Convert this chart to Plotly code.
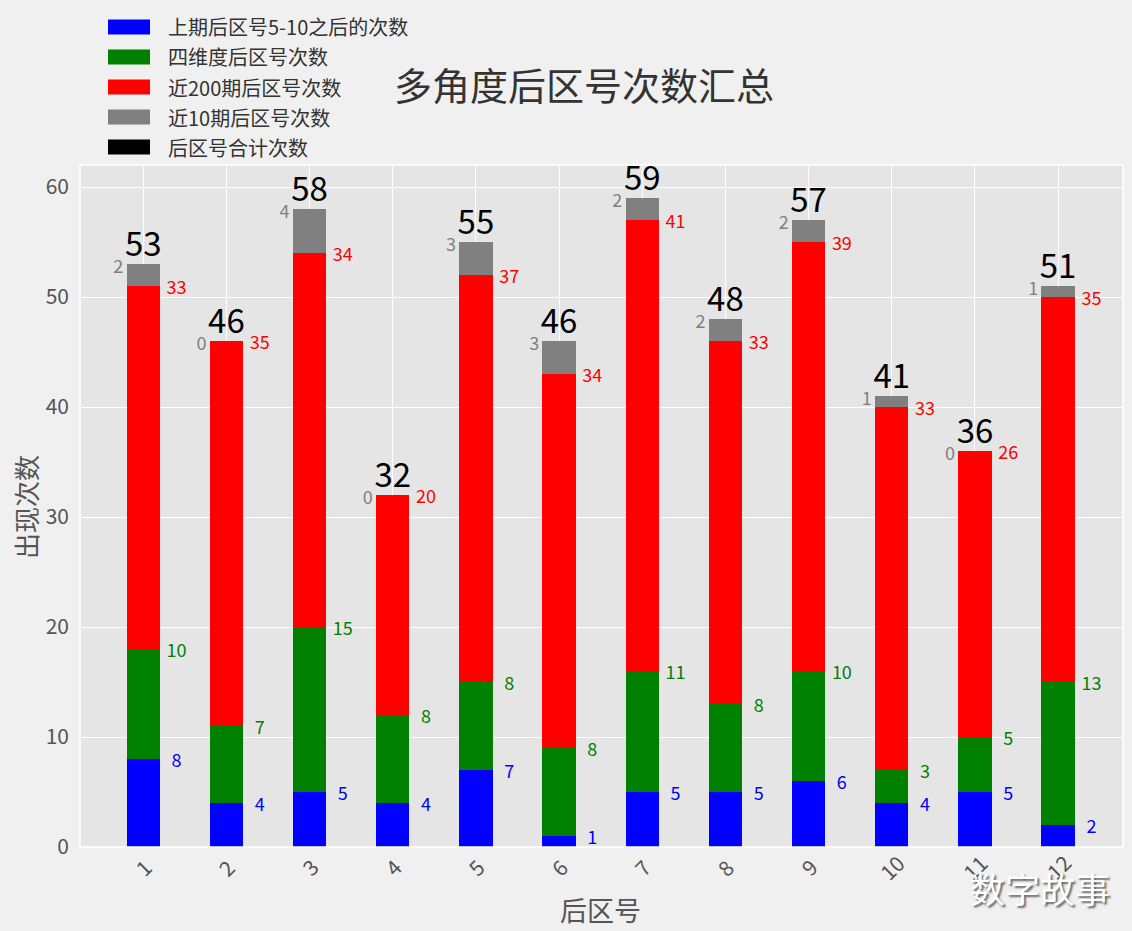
import plotly.graph_objects as go

categories = list(range(1, 13))
tick_labels = [str(c) for c in categories]
blue_vals = [8, 4, 5, 4, 7, 1, 5, 5, 6, 4, 5, 2]
green_vals = [10, 7, 15, 8, 8, 8, 11, 8, 10, 3, 5, 13]
red_vals = [33, 35, 34, 20, 37, 34, 41, 33, 39, 33, 26, 35]
gray_vals = [2, 0, 4, 0, 3, 3, 2, 2, 2, 1, 0, 1]
series_names = ["上期后区号5-10之后的次数", "四维度后区号次数", "近200期后区号次数", "近10期后区号次数", "后区号合计次数"]
series_colors = ["#0000ff", "#008000", "#ff0000", "#808080", "#000000"]

totals = [b + g + r + k for b, g, r, k in zip(blue_vals, green_vals, red_vals, gray_vals)]
cum_blue = blue_vals
cum_green = [b + g for b, g in zip(blue_vals, green_vals)]
cum_red = [b + g + r for b, g, r in zip(blue_vals, green_vals, red_vals)]

FONT = "Noto Sans CJK SC"
fig = go.Figure()

for vals, name, col in zip([blue_vals, green_vals, red_vals, gray_vals], series_names[:4], series_colors[:4]):
    fig.add_trace(go.Bar(x=categories, y=vals, name=name, width=0.4,
                         marker=dict(color=col, line=dict(width=0)), showlegend=False))

lab_font = dict(family=FONT, size=18)
# component labels to the right of bars
for cum, vals, col in [(cum_blue, blue_vals, "#0000ff"), (cum_green, green_vals, "#008000"), (cum_red, red_vals, "#ff0000")]:
    fig.add_trace(go.Scatter(x=[c + 0.4 for c in categories], y=[v - 0.3 for v in cum], mode="text",
                             text=[str(v) for v in vals], textposition="middle center",
                             textfont=dict(color=col, **lab_font), showlegend=False, hoverinfo="skip"))
# gray labels to the left
fig.add_trace(go.Scatter(x=[c - 0.3 for c in categories], y=[t - 0.4 for t in totals], mode="text",
                         text=[str(v) for v in gray_vals], textposition="middle center",
                         textfont=dict(color="#808080", **lab_font), showlegend=False, hoverinfo="skip"))
# totals
fig.add_trace(go.Scatter(x=categories, y=totals, mode="text", text=[str(t) for t in totals],
                         textposition="top center", textfont=dict(color="#000000", family=FONT, size=33),
                         showlegend=False, hoverinfo="skip"))

# manual legend (paper coords derived from pixel layout)
L, R, T, B = 80, 1123, 165, 847
W, H = R - L, B - T
def px(x):
    return (x - L) / W
def py(y):
    return (B - y) / H

for i, (name, col) in enumerate(zip(series_names, series_colors)):
    yc = 27 + 30 * i
    fig.add_shape(type="rect", xref="paper", yref="paper", x0=px(108), x1=px(150), y0=py(yc + 7.5), y1=py(yc - 7.5),
                  fillcolor=col, line=dict(width=0))
    fig.add_annotation(xref="paper", yref="paper", x=px(166), y=py(yc), text=name, showarrow=False,
                       xanchor="left", yanchor="middle", font=dict(family=FONT, size=20, color="#333333"))

# x tick labels rotated
for c, t in zip(categories, tick_labels):
    fig.add_annotation(x=c, xref="x", yref="paper", y=py(867), text=t, showarrow=False, textangle=-45,
                       xanchor="center", yanchor="middle", font=dict(family=FONT, size=21, color="#555555"))

# axis titles
fig.add_annotation(xref="paper", yref="paper", x=px(600), y=py(909), text="后区号", showarrow=False,
                   xanchor="center", yanchor="middle", font=dict(family=FONT, size=27, color="#555555"))
fig.add_annotation(xref="paper", yref="paper", x=px(25), y=py(507), text="出现次数", showarrow=False, textangle=-90,
                   xanchor="center", yanchor="middle", font=dict(family=FONT, size=26, color="#555555"))
# title
fig.add_annotation(xref="paper", yref="paper", x=px(584), y=py(83), text="多角度后区号次数汇总", showarrow=False,
                   xanchor="center", yanchor="middle", font=dict(family=FONT, size=38, color="#333333"))
# watermark
fig.add_annotation(xref="paper", yref="paper", x=px(1040), y=py(887), text="数字故事", showarrow=False,
                   xanchor="center", yanchor="middle",
                   font=dict(family=FONT, size=35, color="#ffffff", shadow="2px 2px 2px #666666"))

# plot border
fig.add_shape(type="rect", xref="paper", yref="paper", x0=0, x1=1, y0=0, y1=1, line=dict(color="white", width=1.5),
              fillcolor="rgba(0,0,0,0)", layer="above")

fig.update_layout(
    barmode="stack", width=1132, height=931,
    margin=dict(l=L, r=1132 - R, t=T, b=931 - B),
    paper_bgcolor="#f0f0f0", plot_bgcolor="#e5e5e5",
    font=dict(family=FONT),
    xaxis=dict(range=[0.24, 12.78], tickvals=categories, showticklabels=False, showgrid=True,
               gridcolor="white", gridwidth=1, zeroline=False),
    yaxis=dict(range=[0, 62], dtick=10, showgrid=True, gridcolor="white", gridwidth=1, zeroline=False,
               tickfont=dict(family=FONT, size=21, color="#555555"), ticklabelstandoff=10),
)

fig.write_html("out.html", config={"displayModeBar": False},
               post_script="document.body.style.margin='0';document.body.style.overflow='hidden';")
